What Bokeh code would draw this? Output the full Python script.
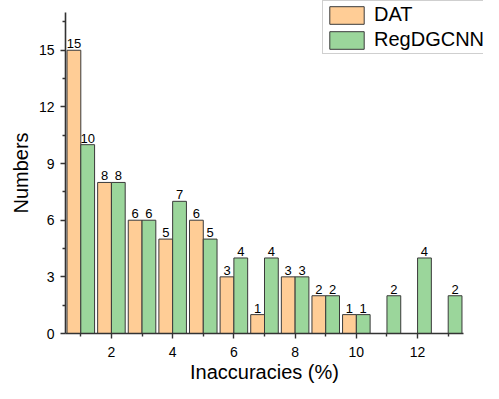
from bokeh.plotting import figure
from bokeh.models import ColumnDataSource, FixedTicker, Range1d, Legend, LegendItem
from bokeh.core.properties import value
from bokeh.embed import file_html
from bokeh.resources import INLINE

categories = [1, 2, 3, 4, 5, 6, 7, 8, 9, 10, 11, 12, 13]
dat_values = [15, 8, 6, 5, 6, 3, 1, 3, 2, 1, 0, 0, 0]
reg_values = [10, 8, 6, 7, 5, 4, 4, 3, 2, 1, 2, 4, 2]
x_ticks = [2, 4, 6, 8, 10, 12]
x_minor = [1, 3, 5, 7, 9, 11, 13]
y_ticks = [0, 3, 6, 9, 12, 15]
y_minor = [1.5, 4.5, 7.5, 10.5, 13.5, 16.5]

FONT = "Liberation Sans"
DAT_COLOR = "#FFCD96"
REG_COLOR = "#9BD69B"
EDGE = "#3a3a3a"
BW = 0.45

W, H = 483, 383
# axis extents (data) and where they sit on the canvas (px)
X0, X1 = 0.5, 13.5
Y0, Y1 = 0, 17
AX_LEFT, AX_RIGHT = 65, 463
AX_BOTTOM, AX_TOP = 333, 12
sx = (AX_RIGHT - AX_LEFT) / (X1 - X0)
sy = (AX_BOTTOM - AX_TOP) / (Y1 - Y0)
x_range = Range1d(X0 - AX_LEFT / sx, X0 + (W - AX_LEFT) / sx)
y_range = Range1d(Y0 - (H - AX_BOTTOM) / sy, Y0 + AX_BOTTOM / sy)

p = figure(width=W, height=H, output_backend="svg", toolbar_location=None,
           x_range=x_range, y_range=y_range,
           min_border_left=0, min_border_top=0, min_border_right=0, min_border_bottom=0)
p.outline_line_color = None
p.xgrid.grid_line_color = None
p.ygrid.grid_line_color = None

def build(vals, shift):
    keep = [i for i, v in enumerate(vals) if v > 0]
    return ColumnDataSource(dict(x=[categories[i] + shift for i in keep],
                                 top=[vals[i] for i in keep],
                                 lbl=[str(vals[i]) for i in keep]))

src_dat = build(dat_values, -BW / 2)
src_reg = build(reg_values, BW / 2)

r_dat = p.vbar(x="x", top="top", width=BW, source=src_dat, fill_color=DAT_COLOR,
               line_color=EDGE, line_width=1)
r_reg = p.vbar(x="x", top="top", width=BW, source=src_reg, fill_color=REG_COLOR,
               line_color=EDGE, line_width=1)

for src in (src_dat, src_reg):
    p.text(x="x", y="top", text="lbl", source=src, text_align="center",
           text_baseline="bottom", y_offset=-2, text_font=value(FONT),
           text_font_size="13px", text_color="black")

for ax in (p.xaxis[0], p.yaxis[0]):
    ax.axis_line_color = "#333333"
    ax.axis_line_width = 1.6
    ax.major_tick_line_color = "#333333"
    ax.minor_tick_line_color = "#333333"
    ax.major_tick_line_width = 1.4
    ax.minor_tick_line_width = 1.4
    ax.major_tick_out = 5
    ax.major_tick_in = 0
    ax.minor_tick_out = 3
    ax.minor_tick_in = 0
    ax.major_label_text_font = FONT
    ax.major_label_text_font_size = "14px"
    ax.major_label_text_color = "black"
    ax.axis_label_text_font = FONT
    ax.axis_label_text_font_size = "20px"
    ax.axis_label_text_font_style = "normal"
    ax.axis_label_text_color = "black"

p.xaxis.ticker = FixedTicker(ticks=x_ticks, minor_ticks=x_minor)
p.yaxis.ticker = FixedTicker(ticks=y_ticks, minor_ticks=y_minor)
p.xaxis.bounds = (X0, X1)
p.yaxis.bounds = (Y0, Y1)
p.xaxis.fixed_location = Y0
p.yaxis.fixed_location = X0
p.xaxis.axis_label = "Inaccuracies (%)"
p.yaxis.axis_label = "Numbers"
p.xaxis.major_label_standoff = 8
p.xaxis.axis_label_standoff = 1
p.yaxis.major_label_standoff = 6
p.yaxis.axis_label_standoff = 4

legend = Legend(items=[LegendItem(label="DAT", renderers=[r_dat]),
                       LegendItem(label="RegDGCNN", renderers=[r_reg])],
                location=(322, H - 54))
legend.label_text_font = FONT
legend.label_text_font_size = "20px"
legend.label_text_color = "black"
legend.glyph_width = 43
legend.glyph_height = 22
legend.label_height = 22
legend.label_standoff = 6
legend.spacing = 2
legend.padding = 2
legend.margin = 0
legend.border_line_color = "#a0a0a0"
legend.border_line_width = 1
legend.background_fill_alpha = 1
p.add_layout(legend)

open("out.html", "w").write(file_html(p, INLINE))
